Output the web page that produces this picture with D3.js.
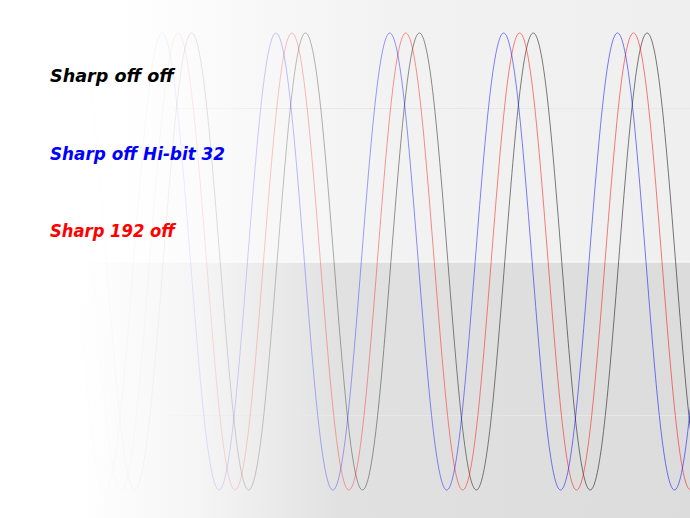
<!DOCTYPE html>
<html><head><meta charset="utf-8">
<script src="https://cdn.jsdelivr.net/npm/d3@7"></script>
<style>html,body{margin:0;padding:0;background:#fff;overflow:hidden}</style>
</head><body>
<svg id="chart" width="690" height="518"></svg>
<script>
// ---- data ----
const seriesNames = ["Sharp off off", "Sharp off Hi-bit 32", "Sharp 192 off"];
const seriesColors = ["#000000", "#0000ff", "#ff0000"];
const seriesLagDeg = [93.6, 0, 50.6];           // phase lag of each series (degrees)
const phaseDeg = [0,45,90,135,180,225,270,315,360,405,450,495,540,585,630,675,720,765,810,855,900,945,990,1035,1080,1125,1170,1215,1260,1305,1350,1395,1440,1485,1530,1575,1620,1665,1710,1755,1800,1845,1890,1935,1980,2025,2070,2115,2160,2205,2250,2295,2340,2385,2430,2475,2520];
const signalValues = [0,.71,1,.71,0,-.71,-1,-.71,0,.71,1,.71,0,-.71,-1,-.71,0,.71,1,.71,0,-.71,-1,-.71,0,.71,1,.71,0,-.71,-1,-.71,0,.71,1,.71,0,-.71,-1,-.71,0,.71,1,.71,0,-.71,-1,-.71,0,.71,1,.71,0,-.71,-1,-.71,0];
const gridValues = [0.67, -0.67];

// ---- layout ----
const W = 690, H = 518;
const svg = d3.select("#chart");
const x = d3.scaleLinear().domain([0, 2520]).range([-94.1, 702.9]);
const y = d3.scaleLinear().domain([-1, 1]).range([490, 33]);
const yMid = y(0);

const defs = svg.append("defs");
function hGrad(id, stops) {
  const g = defs.append("linearGradient").attr("id", id)
    .attr("gradientUnits", "userSpaceOnUse").attr("x1", 0).attr("x2", W).attr("y1", 0).attr("y2", 0);
  stops.forEach(s => g.append("stop").attr("offset", s[0] / W).attr("stop-color", s[1]).attr("stop-opacity", s[2] == null ? 1 : s[2]));
}
hGrad("bgTop", [[0, "#ffffff"], [120, "#ffffff"], [260, "#f8f8f8"], [400, "#f2f2f2"], [690, "#efefef"]]);
hGrad("bgBot", [[0, "#ffffff"], [80, "#ffffff"], [200, "#f5f5f5"], [340, "#e1e1e1"], [690, "#dcdcdc"]]);
hGrad("gridG", [[0, "#e8e8e8", 0], [150, "#e8e8e8", 0], [330, "#e8e8e8", 1], [690, "#e8e8e8", 1]]);
seriesColors.forEach((c, i) => hGrad("lineG" + i, [[0, c, 0], [70, c, 0], [160, c, 0.035], [276, c, 0.22], [400, c, 0.42], [520, c, 0.5], [690, c, 0.52]]));

svg.append("rect").attr("x", 0).attr("y", 0).attr("width", W).attr("height", yMid).attr("fill", "url(#bgTop)");
svg.append("rect").attr("x", 0).attr("y", yMid + 1).attr("width", W).attr("height", H - yMid - 1).attr("fill", "url(#bgBot)");

svg.selectAll("line.grid").data(gridValues).enter().append("line").attr("class", "grid")
  .attr("x1", 0).attr("x2", W).attr("y1", d => Math.round(y(d)) + 0.5).attr("y2", d => Math.round(y(d)) + 0.5)
  .attr("stroke", "url(#gridG)").attr("stroke-width", 1);

const line = d3.line().curve(d3.curveNatural);
const order = [0, 2, 1];
order.forEach(i => {
  const pts = phaseDeg.map((p, k) => [x(p + seriesLagDeg[i]), y(signalValues[k])]);
  svg.append("path").attr("d", line(pts)).attr("fill", "none")
    .attr("stroke", "url(#lineG" + i + ")").attr("stroke-width", 1);
});

// legend texts
const baselines = [82, 160, 237];
const widths = [124, 175, 125];
seriesNames.forEach((n, i) => {
  svg.append("text").attr("x", 50).attr("y", baselines[i]).text(n)
    .attr("fill", seriesColors[i])
    .attr("font-family", "DejaVu Sans, sans-serif").attr("font-style", "italic").attr("font-weight", "bold")
    .attr("font-size", 18).attr("textLength", widths[i]).attr("lengthAdjust", "spacingAndGlyphs");
});
</script>
</body></html>
